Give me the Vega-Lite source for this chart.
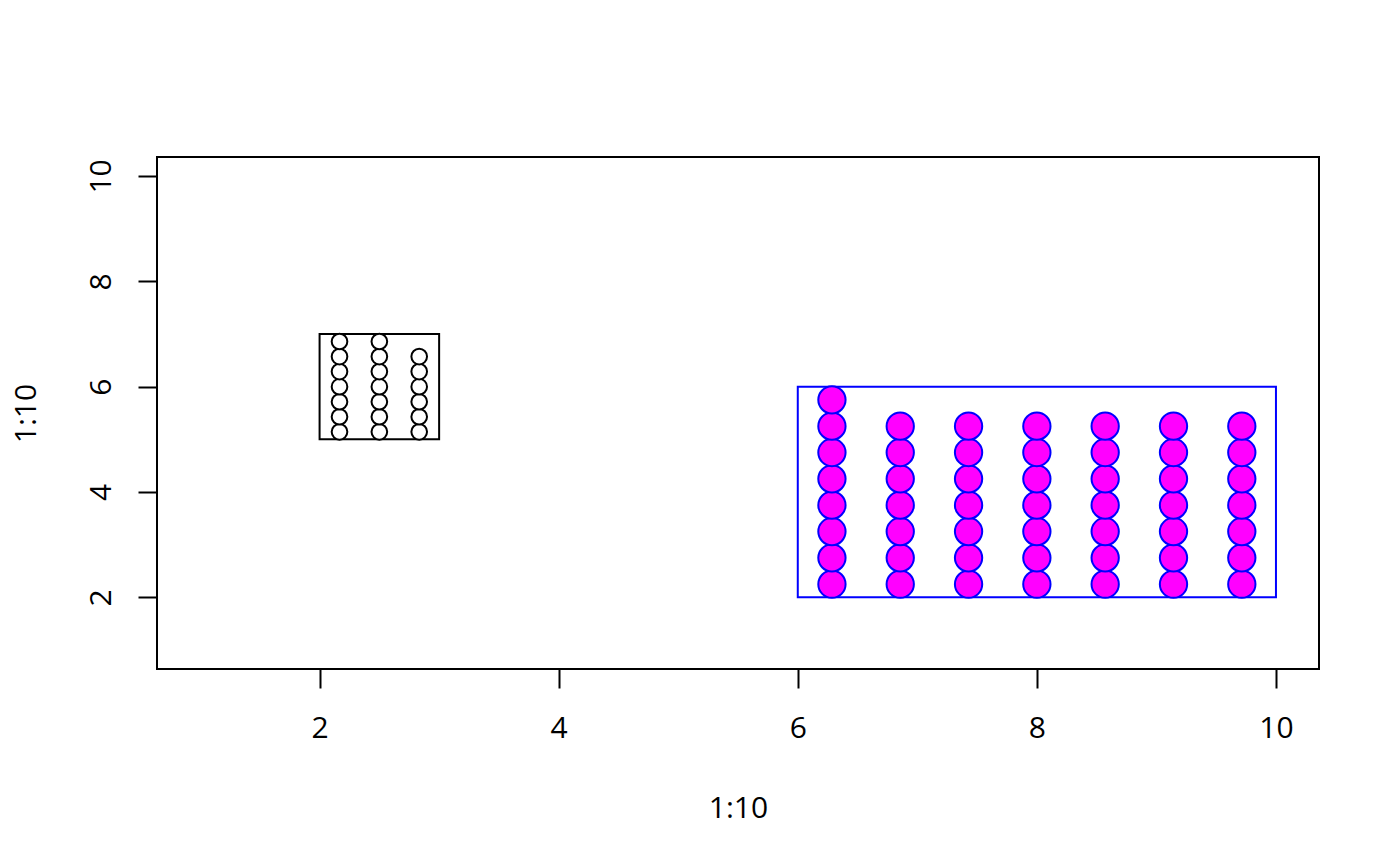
{
  "$schema": "https://vega.github.io/schema/vega-lite/v6.json",
  "width": 1162,
  "height": 512,
  "autosize": {"type": "none"},
  "padding": {"left": 157, "top": 157, "right": 81, "bottom": 197},
  "background": "white",
  "config": {
    "view": {"stroke": "black", "strokeWidth": 2},
    "font": "Open Sans"
  },
  "datasets": {
    "boxes": [
      {"group": "A", "x1": 2, "x2": 3, "y1": 5, "y2": 7},
      {"group": "B", "x1": 6, "x2": 10, "y1": 2, "y2": 6}
    ],
    "pts": [
      {"group": "A", "x": 2.1667, "y": 5.1429},
      {"group": "A", "x": 2.1667, "y": 5.4286},
      {"group": "A", "x": 2.1667, "y": 5.7143},
      {"group": "A", "x": 2.1667, "y": 6.0},
      {"group": "A", "x": 2.1667, "y": 6.2857},
      {"group": "A", "x": 2.1667, "y": 6.5714},
      {"group": "A", "x": 2.1667, "y": 6.8571},
      {"group": "A", "x": 2.5, "y": 5.1429},
      {"group": "A", "x": 2.5, "y": 5.4286},
      {"group": "A", "x": 2.5, "y": 5.7143},
      {"group": "A", "x": 2.5, "y": 6.0},
      {"group": "A", "x": 2.5, "y": 6.2857},
      {"group": "A", "x": 2.5, "y": 6.5714},
      {"group": "A", "x": 2.5, "y": 6.8571},
      {"group": "A", "x": 2.8333, "y": 5.1429},
      {"group": "A", "x": 2.8333, "y": 5.4286},
      {"group": "A", "x": 2.8333, "y": 5.7143},
      {"group": "A", "x": 2.8333, "y": 6.0},
      {"group": "A", "x": 2.8333, "y": 6.2857},
      {"group": "A", "x": 2.8333, "y": 6.5714},
      {"group": "B", "x": 6.2857, "y": 2.25},
      {"group": "B", "x": 6.2857, "y": 2.75},
      {"group": "B", "x": 6.2857, "y": 3.25},
      {"group": "B", "x": 6.2857, "y": 3.75},
      {"group": "B", "x": 6.2857, "y": 4.25},
      {"group": "B", "x": 6.2857, "y": 4.75},
      {"group": "B", "x": 6.2857, "y": 5.25},
      {"group": "B", "x": 6.2857, "y": 5.75},
      {"group": "B", "x": 6.8571, "y": 2.25},
      {"group": "B", "x": 6.8571, "y": 2.75},
      {"group": "B", "x": 6.8571, "y": 3.25},
      {"group": "B", "x": 6.8571, "y": 3.75},
      {"group": "B", "x": 6.8571, "y": 4.25},
      {"group": "B", "x": 6.8571, "y": 4.75},
      {"group": "B", "x": 6.8571, "y": 5.25},
      {"group": "B", "x": 7.4286, "y": 2.25},
      {"group": "B", "x": 7.4286, "y": 2.75},
      {"group": "B", "x": 7.4286, "y": 3.25},
      {"group": "B", "x": 7.4286, "y": 3.75},
      {"group": "B", "x": 7.4286, "y": 4.25},
      {"group": "B", "x": 7.4286, "y": 4.75},
      {"group": "B", "x": 7.4286, "y": 5.25},
      {"group": "B", "x": 8.0, "y": 2.25},
      {"group": "B", "x": 8.0, "y": 2.75},
      {"group": "B", "x": 8.0, "y": 3.25},
      {"group": "B", "x": 8.0, "y": 3.75},
      {"group": "B", "x": 8.0, "y": 4.25},
      {"group": "B", "x": 8.0, "y": 4.75},
      {"group": "B", "x": 8.0, "y": 5.25},
      {"group": "B", "x": 8.5714, "y": 2.25},
      {"group": "B", "x": 8.5714, "y": 2.75},
      {"group": "B", "x": 8.5714, "y": 3.25},
      {"group": "B", "x": 8.5714, "y": 3.75},
      {"group": "B", "x": 8.5714, "y": 4.25},
      {"group": "B", "x": 8.5714, "y": 4.75},
      {"group": "B", "x": 8.5714, "y": 5.25},
      {"group": "B", "x": 9.1429, "y": 2.25},
      {"group": "B", "x": 9.1429, "y": 2.75},
      {"group": "B", "x": 9.1429, "y": 3.25},
      {"group": "B", "x": 9.1429, "y": 3.75},
      {"group": "B", "x": 9.1429, "y": 4.25},
      {"group": "B", "x": 9.1429, "y": 4.75},
      {"group": "B", "x": 9.1429, "y": 5.25},
      {"group": "B", "x": 9.7143, "y": 2.25},
      {"group": "B", "x": 9.7143, "y": 2.75},
      {"group": "B", "x": 9.7143, "y": 3.25},
      {"group": "B", "x": 9.7143, "y": 3.75},
      {"group": "B", "x": 9.7143, "y": 4.25},
      {"group": "B", "x": 9.7143, "y": 4.75},
      {"group": "B", "x": 9.7143, "y": 5.25}
    ]
  },
  "layer": [
    {
      "data": {"name": "boxes"},
      "mark": {"type": "rect", "filled": false, "strokeWidth": 2, "clip": false},
      "encoding": {
        "x": {
          "field": "x1", "type": "quantitative", "title": "1:10",
          "scale": {"domain": [0.64, 10.36], "nice": false, "zero": false},
          "axis": {
            "values": [2, 4, 6, 8, 10],
            "format": "d",
            "domain": false,
            "grid": false,
            "tickSize": 19,
            "tickWidth": 2,
            "tickColor": "black",
            "labelFont": "Open Sans",
            "labelFontSize": 30,
            "labelColor": "black",
            "labelBaseline": "alphabetic",
            "labelPadding": 49,
            "labelFlush": false,
            "labelOverlap": false,
            "titleFont": "Open Sans",
            "titleFontSize": 30,
            "titleFontWeight": "normal",
            "titleColor": "black",
            "titleBaseline": "alphabetic",
            "titleAlign": "center",
            "titleX": 581,
            "titleY": 148
          }
        },
        "x2": {"field": "x2"},
        "y": {
          "field": "y1", "type": "quantitative", "title": "1:10",
          "scale": {"domain": [0.64, 10.36], "nice": false, "zero": false},
          "axis": {
            "values": [2, 4, 6, 8, 10],
            "format": "d",
            "domain": false,
            "grid": false,
            "tickSize": 19,
            "tickWidth": 2,
            "tickColor": "black",
            "labelFont": "Open Sans",
            "labelFontSize": 30,
            "labelColor": "black",
            "labelAngle": -90,
            "labelAlign": "center",
            "labelBaseline": "alphabetic",
            "labelPadding": 28,
            "labelFlush": false,
            "labelOverlap": false,
            "titleFont": "Open Sans",
            "titleFontSize": 30,
            "titleFontWeight": "normal",
            "titleColor": "black",
            "titleAngle": -90,
            "titleBaseline": "alphabetic",
            "titleAlign": "center",
            "titleX": -122,
            "titleY": 256
          }
        },
        "y2": {"field": "y2"},
        "stroke": {"field": "group", "type": "nominal", "scale": {"domain": ["A", "B"], "range": ["black", "blue"]}, "legend": null}
      }
    },
    {
      "data": {"name": "pts"},
      "mark": {"type": "point", "shape": "circle", "filled": true, "opacity": 1, "strokeWidth": 2, "clip": false},
      "encoding": {
        "x": {"field": "x", "type": "quantitative"},
        "y": {"field": "y", "type": "quantitative"},
        "fill": {"field": "group", "type": "nominal", "scale": {"domain": ["A", "B"], "range": ["white", "magenta"]}, "legend": null},
        "stroke": {"field": "group", "type": "nominal", "legend": null},
        "size": {"field": "group", "type": "ordinal", "scale": {"domain": ["A", "B"], "range": [245, 745]}, "legend": null}
      }
    }
  ]
}
